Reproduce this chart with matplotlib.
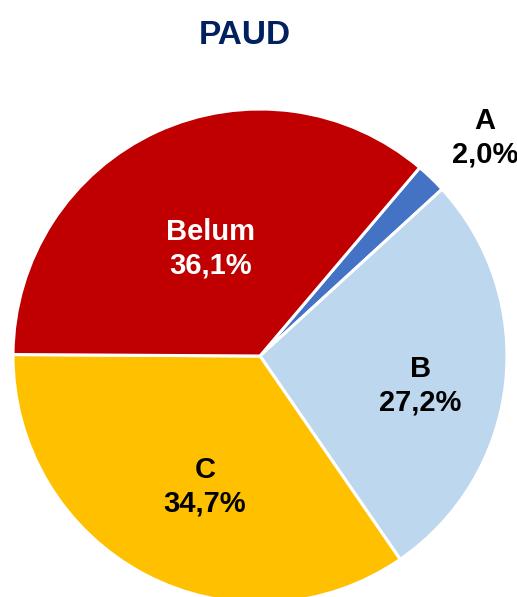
import matplotlib
matplotlib.use("Agg")
import matplotlib.pyplot as plt
import numpy as np

plt.rcParams['font.family'] = ['Liberation Sans', 'DejaVu Sans']

categories = ['A', 'B', 'C', 'Belum']
values = [2.0, 27.2, 34.7, 36.1]
colors = ['#4472C4', '#BDD7EE', '#FFC000', '#C00000']
text_colors = ['black', 'black', 'black', 'white']
# label placement: fraction of radius and angle tweak (deg)
label_dist = [1.27, 0.66, 0.575, 0.48]
label_shift = [-2, -4, 5, 0]

fig = plt.figure(figsize=(5.17, 5.97), dpi=100)
ax = fig.add_axes([0, 0, 1, 1])

cx, cy, r = 260, 241, 247
wedges, _ = ax.pie(values, colors=colors, startangle=49.7, counterclock=False,
                   center=(cx, cy), radius=r, frame=True,
                   wedgeprops=dict(edgecolor='white', linewidth=2.2))
ax.set_xlim(0, 517)
ax.set_ylim(0, 597)
ax.axis('off')

for w, name, v, tc, d, s in zip(wedges, categories, values, text_colors,
                                label_dist, label_shift):
    ang = np.deg2rad((w.theta1 + w.theta2) / 2 + s)
    x = cx + r * d * np.cos(ang)
    y = cy + r * d * np.sin(ang)
    pct = f"{v:.1f}%".replace('.', ',')
    ax.text(x, y, f"{name}\n{pct}", ha='center', va='center', fontsize=21,
            fontweight='bold', color=tc, linespacing=1.25)

fig.text(0.474, 1 - 35 / 597, 'PAUD', ha='center', va='center', fontsize=24,
         fontweight='bold', color='#002060')

fig.savefig('out.png', dpi=100)
